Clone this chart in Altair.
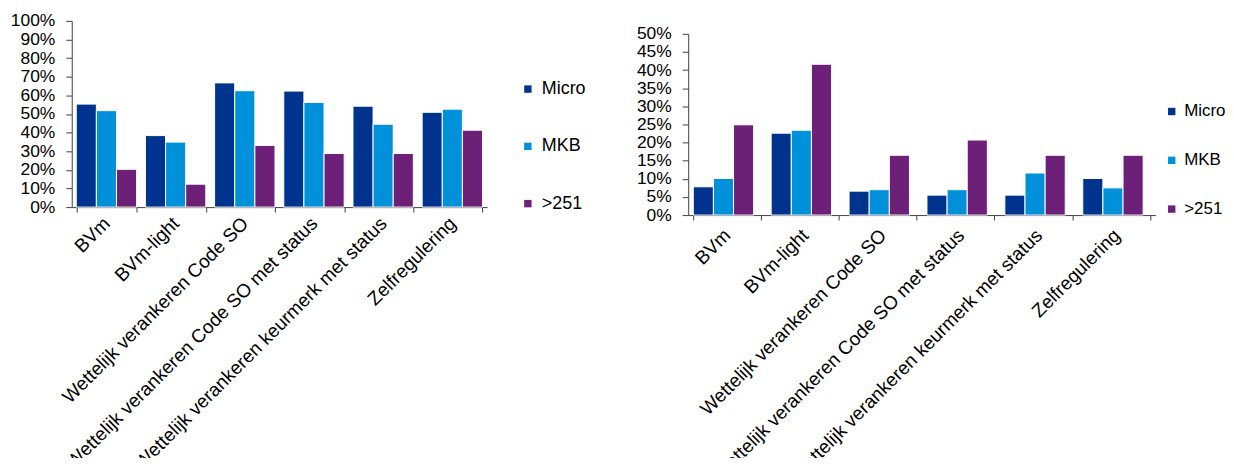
import altair as alt
import pandas as pd

categories = [
    "BVm",
    "BVm-light",
    "Wettelijk verankeren Code SO",
    "Wettelijk verankeren Code SO met status",
    "Wettelijk verankeren keurmerk met status",
    "Zelfregulering",
]
series = ["Micro", "MKB", ">251"]
colors = ["#00338D", "#0091DA", "#6D2077"]

left_micro = [55.3, 38.4, 66.7, 62.3, 54.2, 50.9]
left_mkb = [51.8, 34.9, 62.5, 56.2, 44.5, 52.6]
left_251 = [20.3, 12.3, 33.1, 28.8, 28.8, 41.3]

right_micro = [7.8, 22.6, 6.6, 5.5, 5.5, 10.1]
right_mkb = [10.1, 23.4, 7.0, 7.0, 11.6, 7.5]
right_251 = [24.9, 41.6, 16.5, 20.7, 16.5, 16.5]

left_ticks = [0, 0.1, 0.2, 0.3, 0.4, 0.5, 0.6, 0.7, 0.8, 0.9, 1.0]
right_ticks = [0, 0.05, 0.1, 0.15, 0.2, 0.25, 0.3, 0.35, 0.4, 0.45, 0.5]

FONT = "Liberation Sans"


def long_df(micro, mkb, big):
    rows = []
    for s, vals in zip(series, [micro, mkb, big]):
        for c, v in zip(categories, vals):
            rows.append({"cat": c, "series": s, "value": v / 100.0})
    return pd.DataFrame(rows)


def make_chart(df, width, height, ymax, ticks, lx, ly, rowpad, pin, lpad,
               lfont, loff):
    return alt.Chart(df).mark_bar(stroke="white", strokeWidth=1).encode(
        x=alt.X(
            "cat:N",
            sort=categories,
            scale=alt.Scale(paddingInner=pin, paddingOuter=0.065),
            axis=alt.Axis(
                title=None,
                labelAngle=-45,
                labelAlign="right",
                labelBaseline="middle",
                labelFontSize=19,
                labelLimit=1000,
                labelPadding=lpad,
                tickSize=5,
                tickBand="extent",
                labelColor="black",
            ),
        ),
        xOffset=alt.XOffset("series:N", sort=series,
                            scale=alt.Scale(paddingInner=0, paddingOuter=0)),
        y=alt.Y(
            "value:Q",
            scale=alt.Scale(domain=[0, ymax], nice=False),
            axis=alt.Axis(
                title=None,
                values=ticks,
                format=".0%",
                grid=False,
                labelFontSize=17.5,
                tickSize=6,
                labelPadding=11,
                labelColor="black",
            ),
        ),
        color=alt.Color(
            "series:N",
            sort=series,
            scale=alt.Scale(domain=series, range=colors),
            legend=alt.Legend(
                title=None,
                orient="none",
                legendX=lx,
                legendY=ly,
                symbolType="square",
                symbolSize=55,
                symbolStrokeWidth=0,
                labelFontSize=lfont,
                labelOffset=loff,
                rowPadding=rowpad,
                labelColor="black",
            ),
        ),
    ).properties(width=width, height=height)


left = make_chart(long_df(left_micro, left_mkb, left_251), 417, 187, 1.0,
                  left_ticks, 449, 59.5, 39.5, 0.127, 8, 18, 5)
right = make_chart(long_df(right_micro, right_mkb, right_251), 469, 182, 0.5,
                   right_ticks, 477, 82.5, 31, 0.134, 12, 17, 4)

spacer = alt.Chart(pd.DataFrame({"v": [0]})).mark_rect(opacity=0).encode(
    x=alt.value(0), x2=alt.value(0), y=alt.value(0), y2=alt.value(0)
).properties(width=469, height=3.5)

right_col = alt.vconcat(spacer, right, spacing=0)

chart = alt.hconcat(left, right_col, spacing=50).resolve_scale(
    color="independent"
).properties(
    padding={"left": 2, "top": 3, "right": 0, "bottom": -28}
).configure(font=FONT).configure_view(
    stroke="transparent", strokeWidth=0
).configure_axis(
    domainColor="#404040", tickColor="#404040", labelFont=FONT
).configure_legend(labelFont=FONT)

chart.save("out.html", embed_options={"renderer": "svg", "actions": False})
